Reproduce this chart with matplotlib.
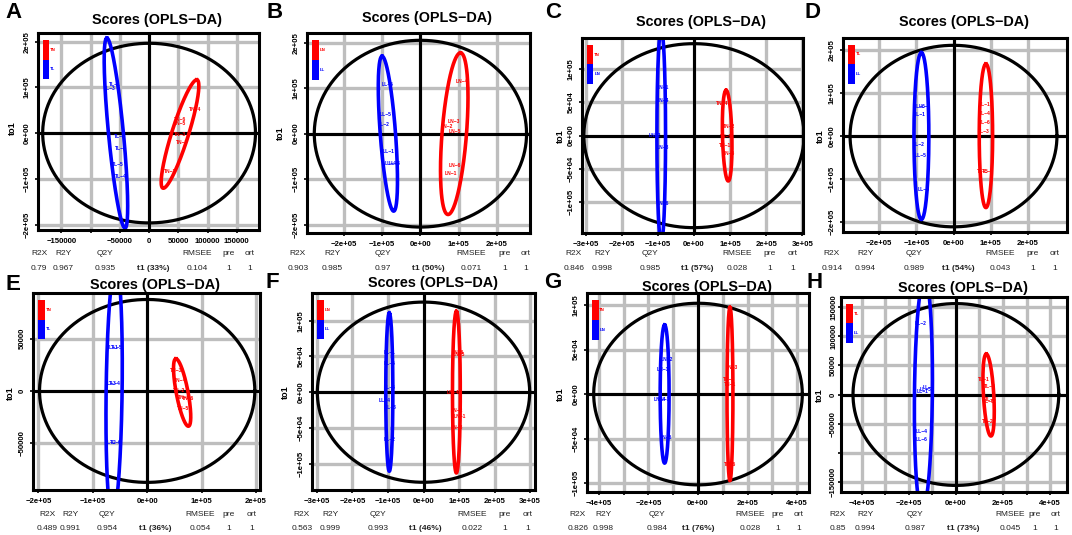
import numpy as np
import matplotlib.pyplot as plt
from matplotlib.patches import Rectangle

plt.rcParams['font.family'] = ['Liberation Sans', 'DejaVu Sans']

W, H = 1072, 535

letters = ["A", "B", "C", "D", "E", "F", "G", "H"]

# model summary numbers under each panel
r2x = [0.79, 0.903, 0.846, 0.914, 0.489, 0.563, 0.826, 0.85]
r2y = [0.967, 0.985, 0.998, 0.994, 0.991, 0.999, 0.998, 0.994]
q2y = [0.935, 0.97, 0.985, 0.989, 0.954, 0.993, 0.984, 0.987]
t1_pct = [33, 50, 57, 54, 36, 46, 76, 73]
rmsee = [0.104, 0.071, 0.028, 0.043, 0.054, 0.022, 0.028, 0.045]
pre = [1, 1, 1, 1, 1, 1, 1, 1]
ort = [1, 1, 1, 1, 1, 1, 1, 1]

red_group = ["TN", "LN", "TN", "TL", "TN", "LN", "TN", "TL"]
blue_group = ["TL", "LL", "LN", "LL", "TL", "LL", "LN", "LL"]

# axis ranges and ticks
xlims = [(-190000, 188000), (-296000, 286000), (-310000, 302000), (-297000, 305000),
         (-210000, 207500), (-314000, 314000), (-448000, 448000), (-488000, 472000)]
ylims = [(-212000, 219000), (-218000, 221000), (-146000, 146500), (-223000, 228000),
         (-94900, 93800), (-136800, 138700), (-110000, 113500), (-167300, 167300)]
xticks = [[-150000, -100000, -50000, 0, 50000, 100000, 150000],
          [-2e5, -1e5, 0, 1e5, 2e5],
          [-3e5, -2e5, -1e5, 0, 1e5, 2e5, 3e5],
          [-2e5, -1e5, 0, 1e5, 2e5],
          [-2e5, -1e5, 0, 1e5, 2e5],
          [-3e5, -2e5, -1e5, 0, 1e5, 2e5, 3e5],
          [-4e5, -3e5, -2e5, -1e5, 0, 1e5, 2e5, 3e5, 4e5],
          [-4e5, -3e5, -2e5, -1e5, 0, 1e5, 2e5, 3e5, 4e5]]
yticks = [[-2e5, -1e5, 0, 1e5, 2e5],
          [-2e5, -1e5, 0, 1e5, 2e5],
          [-1e5, -5e4, 0, 5e4, 1e5],
          [-2e5, -1e5, 0, 1e5, 2e5],
          [-50000, 0, 50000],
          [-1e5, -5e4, 0, 5e4, 1e5],
          [-1e5, -5e4, 0, 5e4, 1e5],
          [-150000, -100000, -50000, 0, 50000, 100000, 150000]]
x_plain = [True, False, False, False, False, False, False, False]
y_plain = [False, False, False, False, True, False, False, True]
x_hidden = [[-100000], [], [], [], [], [], [-3e5, -1e5, 1e5, 3e5], [-3e5, -1e5, 1e5, 3e5]]
y_hidden = [[], [], [], [], [], [], [], [-100000]]

# Hotelling T2 ellipse half axes
hot_a = [182000, 277000, 305000, 278000, 198000, 299000, 421000, 437000]
hot_b = [196500, 205000, 138000, 211000, 87600, 126000, 102000, 156000]

# group ellipses: centre, top-vertex offset, half width at centre
blue_cx = [-56700, -84900, -90600, -86300, -60800, -96300, -134700, -138000]
blue_cy = [0, 0, 0, 0, 0, 0, 0, 0]
blue_dx = [-15500, -15100, 0, 0, 3000, 0, 0, 5000]
blue_dy = [208000, 170000, 160000, 194000, 120000, 110600, 77600, 200000]
blue_w = [12800, 20000, 12000, 20000, 14700, 10000, 18000, 38000]

red_cx = [52900, 88300, 92000, 87100, 64300, 92600, 129000, 139000]
red_cy = [-2000, 0, 0, 700, -1500, 0, 0, -900]
red_dx = [28500, 16200, -3000, 0, -11400, 0, 0, -9800]
red_dy = [118600, 177400, 68000, 167000, 32300, 113000, 97300, 70400]
red_w = [15000, 32000, 13000, 18000, 11000, 11000, 12000, 22000]

# sample scores (t1, to1) with their names
blue_lab = [["TL-1", "TL-3", "TL-2", "TL-6", "TL-5", "TL-4"],
            ["LL-6", "LL-5", "LL-2", "LL-1", "LL-4", "LL-3"],
            ["LN-1", "LN-4", "LN-2", "LN-3", "LN-6"],
            ["LL-6", "LL-3", "LL-1", "LL-2", "LL-5", "LL-4"],
            ["TL-1", "TL-5", "TL-3", "TL-4", "TL-2", "TL-6"],
            ["LL-1", "LL-5", "LL-6", "LL-4", "LL-3", "LL-2"],
            ["LN-2", "LN-1", "LN-4", "LN-3", "LN-5"],
            ["LL-2", "LL-3", "LL-1", "LL-5", "LL-4", "LL-6"]]
blue_x = [[-58000, -66500, -49500, -47800, -52900, -47800],
          [-87000, -91400, -95800, -82800, -78000, -68000],
          [-85200, -85200, -108000, -85200, -85200],
          [-92000, -78000, -91400, -94000, -89500, -80600],
          [-64000, -55000, -66000, -60000, -66000, -58000],
          [-96300, -96300, -96300, -110500, -91500, -96300],
          [-125000, -141000, -152000, -140000, -128000],
          [-149000, -117000, -140000, -130000, -145000, -145000]]
blue_y = [[105700, 97000, -8000, -34500, -69400, -95600],
          [107700, 41500, 19800, -38900, -66000, -66000],
          [72400, 52500, 500, -18400, -102400],
          [68300, 68300, 49000, -18600, -45900, -124000],
          [41900, 41900, 7300, 7300, -49300, -49300],
          [55500, 40000, 6400, -12200, -21600, -66800],
          [38300, 27800, -6000, -6000, -49300],
          [122300, 12600, 5700, 8000, -63500, -77900]]

red_lab = [["TN-4", "TN-6", "TN-5", "TN-3", "TN-2", "TN-1"],
           ["LN-4", "LN-3", "LN-2", "LN-5", "LN-6", "LN-1"],
           ["TN-4", "TN-2", "TN-6", "TN-1", "TN-5"],
           ["TL-1", "TL-4", "TL-6", "TL-3", "TL-5", "TL-2"],
           ["TN-3", "TN-4", "TN-2", "TN-1", "TN-6", "TN-5"],
           ["LN-6", "LN-5", "LN-4", "LN-2", "LN-1", "LN-3"],
           ["TN-3", "TN-2", "TN-1", "TN-6"],
           ["TL-1", "TL-4", "TL-3", "TL-6", "TL-2"]]
red_x = [[78500, 52900, 52900, 52900, 56300, 35800],
         [108900, 87000, 69700, 88800, 89600, 78300],
         [78000, 96200, 89000, 87100, 96200],
         [85200, 85200, 83300, 80600, 78000, 93000],
         [54100, 60200, 58400, 68000, 76000, 66300],
         [95500, 100000, 83000, 92600, 102000, 92600],
         [137000, 127000, 130000, 130000],
         [117000, 146000, 150000, 139000, 134000]]
red_y = [[52500, 29100, 21400, -2200, -20600, -84000],
         [115000, 25700, 16000, 5000, -69700, -86400],
         [48000, 13000, -1000, -14500, -27000],
         [72300, 52900, 31000, 11700, -81600, -81600],
         [19800, 9800, 400, -5900, -7000, -17000],
         [55500, 53000, 0, -25800, -34200, -49000],
         [29700, 16600, 10900, -78900],
         [26000, 14400, -8100, -11500, -46200]]

# layout in pixels: plot box (left, top, right, bottom)
boxes = [(38, 33, 259, 230), (307, 33, 530, 233), (582, 38, 803, 233), (843, 38, 1067, 232),
         (33, 293, 260, 490), (312, 293, 535, 490), (587, 293, 809, 492), (841, 297, 1067, 492)]
ytick_pad = [3, 3, 3, 3, 3, 3, 3, 0.3]
letter_pos = [(13, 13), (275, 13), (553, 13), (812, 13),
              (13, 284), (272, 283), (553, 283), (815, 283)]
title_y = [20, 18, 22, 22, 285, 283, 287, 288]
ylab_pos = [(12, 128), (280, 133), (560, 136), (820, 136),
            (10, 393), (285, 392), (560, 394), (819, 395)]
table_x = [[39, 63, 105, 153, 197, 229, 250],
           [298, 332, 383, 428, 471, 505, 526],
           [574, 602, 650, 697, 737, 770, 793],
           [832, 865, 914, 958, 1000, 1033, 1055],
           [47, 70, 107, 155, 200, 229, 252],
           [302, 330, 378, 425, 472, 505, 528],
           [578, 603, 657, 698, 750, 778, 799],
           [838, 865, 915, 963, 1010, 1035, 1056]]
table_y = [(254, 268), (254, 268), (254, 268), (254, 268),
           (515, 528), (515, 528), (515, 528), (515, 528)]


def fmt_tick(v, plain, hidden):
    if v in hidden:
        return ""
    s = str(int(v)) if plain else "{:.0e}".format(v)
    return s.replace("-", "\u2212")


def fx(px):
    return px / W


def fy(py):
    return 1 - py / H


fig = plt.figure(figsize=(W / 100, H / 100), dpi=100)
t = np.linspace(0, 2 * np.pi, 500)
gray = "#bebebe"

for i in range(8):
    l, tp, r, b = boxes[i]
    ax = fig.add_axes([fx(l), fy(b), (r - l) / W, (b - tp) / H])
    ax.set_xlim(*xlims[i])
    ax.set_ylim(*ylims[i])
    ax.set_xticks(xticks[i])
    ax.set_xticklabels([fmt_tick(v, x_plain[i], x_hidden[i]) for v in xticks[i]],
                       fontsize=5.6, fontweight="bold")
    ax.set_yticks(yticks[i])
    ax.set_yticklabels([fmt_tick(v, y_plain[i], y_hidden[i]) for v in yticks[i]],
                       fontsize=5.6, fontweight="bold", rotation=90, va="center")
    ax.tick_params(length=2.5, width=1.2, pad=3)
    ax.tick_params(axis="y", pad=ytick_pad[i])
    ax.grid(True, color=gray, lw=2.4, zorder=0)
    ax.set_axisbelow(True)
    for sp in ax.spines.values():
        sp.set_linewidth(2.2)
        sp.set_zorder(6)
    ax.axhline(0, color="black", lw=2.2, zorder=2)
    ax.axvline(0, color="black", lw=2.2, zorder=2)

    ax.plot(hot_a[i] * np.cos(t), hot_b[i] * np.sin(t), color="black", lw=2.3, zorder=3)

    for lab, xv, yv in zip(blue_lab[i], blue_x[i], blue_y[i]):
        ax.text(xv, yv, lab.replace("-", "\u2212"), color="blue", fontsize=3.6,
                fontweight="bold", ha="center", va="center", zorder=3)
    for lab, xv, yv in zip(red_lab[i], red_x[i], red_y[i]):
        ax.text(xv, yv, lab.replace("-", "\u2212"), color="red", fontsize=3.6,
                fontweight="bold", ha="center", va="center", zorder=3)

    ax.plot(blue_cx[i] + blue_dx[i] * np.cos(t) + blue_w[i] * np.sin(t),
            blue_cy[i] + blue_dy[i] * np.cos(t), color="blue", lw=2.6, zorder=4)
    ax.plot(red_cx[i] + red_dx[i] * np.cos(t) + red_w[i] * np.sin(t),
            red_cy[i] + red_dy[i] * np.cos(t), color="red", lw=2.6, zorder=4)

    # colour key
    ax.add_patch(Rectangle((0.022, 0.865), 0.03, 0.1, transform=ax.transAxes,
                           color="red", zorder=5, lw=0))
    ax.add_patch(Rectangle((0.022, 0.765), 0.03, 0.1, transform=ax.transAxes,
                           color="blue", zorder=5, lw=0))
    ax.text(0.056, 0.915, red_group[i], transform=ax.transAxes, color="red",
            fontsize=3.2, fontweight="bold", va="center", zorder=5)
    ax.text(0.056, 0.815, blue_group[i], transform=ax.transAxes, color="blue",
            fontsize=3.2, fontweight="bold", va="center", zorder=5)

    fig.text(fx(letter_pos[i][0]), fy(letter_pos[i][1]), letters[i], fontsize=16,
             fontweight="bold", ha="center", va="center")
    fig.text(fx((l + r) / 2 + 9), fy(title_y[i]), "Scores (OPLS\u2212DA)", fontsize=10.4,
             fontweight="bold", ha="center", va="center")
    fig.text(fx(ylab_pos[i][0]), fy(ylab_pos[i][1]), "to1", fontsize=6.5,
             fontweight="bold", rotation=90, ha="center", va="center")

    hx = table_x[i]
    hy, vy = table_y[i]
    heads = ["R2X", "R2Y", "Q2Y", "", "RMSEE", "pre", "ort"]
    vals = [str(r2x[i]), str(r2y[i]), str(q2y[i]), "t1 ({}%)".format(t1_pct[i]),
            str(rmsee[i]), str(pre[i]), str(ort[i])]
    for k in range(7):
        if heads[k]:
            fig.text(fx(hx[k]), fy(hy), heads[k], fontsize=6, ha="center", va="center",
                     color="#222222")
        fig.text(fx(hx[k]), fy(vy), vals[k], fontsize=6, ha="center", va="center",
                 fontweight="bold" if k == 3 else "normal", color="#222222")

fig.savefig("out.png", dpi=100)
